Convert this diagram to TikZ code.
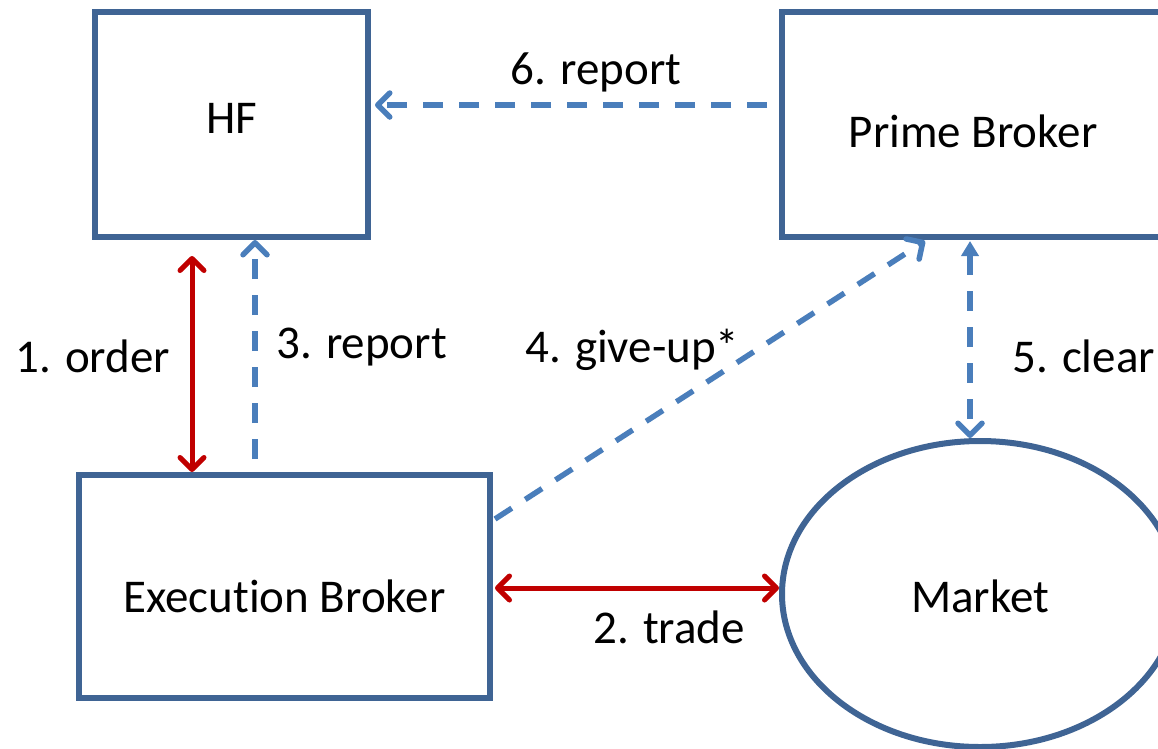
\documentclass[tikz,border=0pt]{standalone}
\usepackage{fontspec}
\setmainfont{Carlito}[RawFeature={-liga;-clig;-calt;-dlig}]
\usetikzlibrary{arrows.meta,calc,shapes.geometric}
\definecolor{boxc}{HTML}{3F6494}
\definecolor{flowc}{HTML}{4A7EBB}
\definecolor{redc}{HTML}{C00000}
\tikzset{
  box/.style={draw=boxc, line width=6pt, rectangle, inner sep=0pt},
  oval/.style={draw=boxc, line width=6pt, ellipse, inner sep=0pt},
  lab/.style={font=\fontsize{47}{56}\selectfont, inner sep=0pt, text=black},
  flow/.style={draw=flowc, line width=5.5pt, dash pattern=on 20pt off 16pt},
  redflow/.style={draw=redc, line width=5pt},
  barb/.tip={Straight Barb[round,length=12pt,width=24pt,line width=5.5pt]},
  rbarb/.tip={Straight Barb[round,length=12pt,width=24pt,line width=5pt]},
  tri/.tip={Triangle[length=15pt,width=17pt]},
}
\begin{document}
\begin{tikzpicture}[x=1pt,y=-1pt]
\useasboundingbox (0,0) rectangle (1158,748);
\clip (0,0) rectangle (1158,748);

% boxes
\node[box, minimum width=273pt, minimum height=225pt,
      label={[lab,yshift=6.5pt]center:HF}] (hf) at (231.5,124.5) {};
\node[box, minimum width=382pt, minimum height=225pt,
      label={[lab,yshift=-7pt]center:Prime Broker}] (pb) at (973,124.5) {};
\node[box, minimum width=411pt, minimum height=223pt,
      label={[lab,yshift=-9.5pt]center:Execution Broker}] (ex) at (284.5,586.5) {};
\node[oval, minimum width=396pt, minimum height=306pt,
      label={[lab,yshift=-2.5pt]center:Market}] (mk) at (980,594) {};

% connector end points
\coordinate (o1) at ($(hf.south)+(-39.5,16)$);
\coordinate (o2) at (o1 |- ex.north);
\coordinate (r3a) at ($(hf.south)+(23.5,0)$);
\coordinate (r3b) at ($(r3a |- ex.north)+(0,-13)$);
\coordinate (r6a) at ($(pb.west)+(-12,-19.5)$);
\coordinate (r6b) at ($(hf.east)+(4,-19.5)$);
\coordinate (g4a) at ($(ex.north east)+(2,47)$);
\coordinate (g4b) at ($(pb.south)+(-48,1)$);
\coordinate (c5a) at ($(pb.south)+(-3,1)$);
\coordinate (c5b) at (c5a |- mk.north);
\coordinate (t2a) at ($(ex.east)+(2,1.5)$);
\coordinate (t2b) at (mk.west |- t2a);

% connectors
\draw[redflow, rbarb-rbarb] (o1) -- (o2);
\draw[flow, -barb] (r3b) -- (r3a);
\draw[flow, -barb] (r6a) -- (r6b);
\draw[flow, -barb] (g4a) -- (g4b);
\draw[flow, tri-barb] (c5a) -- (c5b);
\draw[redflow, rbarb-rbarb] (t2a) -- (t2b);

% labels
\node[lab, anchor=base] (l6) at (596,84) {6. report};
\node[lab, anchor=base west] (l1) at (15,372) {1. order};
\node[lab, anchor=base west] (l3) at (276,358) {3. report};
\node[lab, anchor=base west] (l4) at (525,362) {4. give-up*};
\node[lab, anchor=base west] (l5) at (1012,372) {5. clear};
\node[lab, anchor=base] (l2) at (669,643) {2. trade};
\end{tikzpicture}
\end{document}
